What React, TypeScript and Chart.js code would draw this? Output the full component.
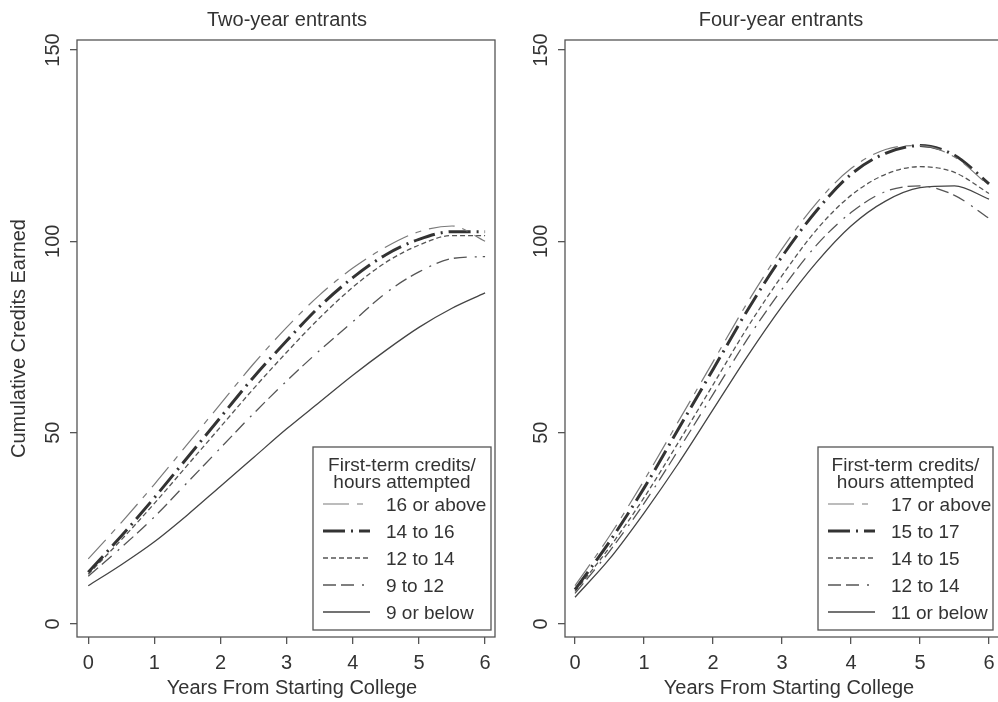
import React, { useEffect, useRef } from "react";
import { Chart, registerables } from "chart.js";
Chart.register(...registerables);

// ---------- data ----------
const YEARS = [0, 0.5, 1, 1.5, 2, 2.5, 3, 3.5, 4, 4.5, 5, 5.5, 6];
const X_TICKS = [0, 1, 2, 3, 4, 5, 6];
const Y_TICKS = [0, 50, 100, 150];

const TWO_TITLE = "Two-year entrants";
const TWO_LABELS = ["16 or above", "14 to 16", "12 to 14", "9 to 12", "9 or below"];
const TWO_16_UP = [17, 26.5, 36.5, 47, 57.5, 68, 77.5, 86, 93, 98.5, 102.5, 104, 100];
const TWO_14_16 = [13.5, 23, 33, 43.5, 54, 64.5, 74, 83, 90.5, 96.5, 100.5, 102.5, 102.5];
const TWO_12_14 = [13, 22, 31.5, 41.5, 51.5, 61.5, 71, 80, 88, 94.5, 99, 101.5, 101.5];
const TWO_9_12 = [12.5, 20, 28, 37, 46, 55, 63.5, 71.5, 79, 86.5, 92, 95.5, 96];
const TWO_9_DOWN = [10, 15.5, 21.5, 28.5, 36, 43.5, 51, 58, 65, 71.5, 77.5, 82.5, 86.5];

const FOUR_TITLE = "Four-year entrants";
const FOUR_LABELS = ["17 or above", "15 to 17", "14 to 15", "12 to 14", "11 or below"];
const FOUR_17_UP = [10, 23, 37.5, 53, 68.5, 84, 98, 110, 119, 124, 125, 122, 114.5];
const FOUR_15_17 = [9, 21.5, 35.5, 51, 66.5, 82, 96, 108, 117.5, 123, 125, 122.5, 115];
const FOUR_14_15 = [8.5, 20, 33, 47.5, 62.5, 77.5, 91, 103, 112, 117.5, 119.5, 118, 112.5];
const FOUR_12_14 = [8, 19, 31.5, 45.5, 60, 74.5, 87.5, 99, 107.5, 113, 114.5, 112, 106];
const FOUR_11_DOWN = [7, 17, 29, 42, 56, 70, 83, 94.5, 104, 110.5, 114, 114.5, 111];

const X_TITLE = "Years From Starting College";
const Y_TITLE = "Cumulative Credits Earned";
const LEGEND_TITLE = ["First-term credits/", "hours attempted"];

// ---------- styles ----------
const FONT = '"Liberation Sans", Arial, Helvetica, sans-serif';
const TEXT = "#333";
const AXIS = "#555";
const LINE_STYLES = [
  { color: "#7a7a7a", width: 1.2, dash: [26, 8, 6, 8] },
  { color: "#333", width: 3, dash: [22, 6, 2, 6] },
  { color: "#555", width: 1.3, dash: [5, 3] },
  { color: "#555", width: 1.3, dash: [13, 5, 13, 8, 2, 6] },
  { color: "#444", width: 1.3, dash: [] },
];

type PanelCfg = {
  title: string;
  labels: string[];
  series: number[][];
  showYTitle: boolean;
  canvasLeft: number;
  canvasWidth: number;
  yAxisWidth: number;
  padRight: number;
  xMin: number;
  xMax: number;
  titleX: number;
  xTitleX: number;
  legendBox: { x: number; y: number; w: number; h: number };
};

function makeDecor(cfg: PanelCfg) {
  return {
    id: "stataDecor",
    afterDatasetsDraw(chart: any) {
      const { ctx, chartArea: ca, scales } = chart;
      ctx.save();
      // frame
      ctx.setLineDash([]);
      ctx.strokeStyle = AXIS;
      ctx.lineWidth = 1.3;
      ctx.strokeRect(ca.left, ca.top, ca.right - ca.left, ca.bottom - ca.top);

      ctx.fillStyle = TEXT;
      ctx.font = `20px ${FONT}`;
      ctx.textAlign = "center";
      ctx.textBaseline = "alphabetic";
      ctx.fillText(cfg.title, cfg.titleX, 26);

      for (const v of X_TICKS) {
        ctx.fillText(String(v), scales.x.getPixelForValue(v), 669);
      }
      ctx.fillText(X_TITLE, cfg.xTitleX, 694);

      for (const v of Y_TICKS) {
        const y = scales.y.getPixelForValue(v);
        ctx.save();
        ctx.translate(ca.left - 24, y);
        ctx.rotate(-Math.PI / 2);
        ctx.textBaseline = "middle";
        ctx.fillText(String(v), 0, 0);
        ctx.restore();
      }
      if (cfg.showYTitle) {
        ctx.save();
        ctx.translate(19, (ca.top + ca.bottom) / 2);
        ctx.rotate(-Math.PI / 2);
        ctx.textBaseline = "middle";
        ctx.fillText(Y_TITLE, 0, 0);
        ctx.restore();
      }

      // legend
      const b = cfg.legendBox;
      ctx.fillStyle = "#fff";
      ctx.fillRect(b.x, b.y, b.w, b.h);
      ctx.strokeStyle = AXIS;
      ctx.lineWidth = 1.3;
      ctx.strokeRect(b.x, b.y, b.w, b.h);
      ctx.fillStyle = TEXT;
      ctx.font = `19px ${FONT}`;
      ctx.textAlign = "center";
      ctx.fillText(LEGEND_TITLE[0], b.x + b.w / 2, b.y + 24);
      ctx.fillText(LEGEND_TITLE[1], b.x + b.w / 2, b.y + 41);
      ctx.textAlign = "left";
      cfg.labels.forEach((lab, i) => {
        const base = b.y + 64 + 27 * i;
        const st = LINE_STYLES[i];
        ctx.save();
        ctx.strokeStyle = st.color;
        ctx.lineWidth = st.width;
        ctx.setLineDash(st.dash);
        ctx.beginPath();
        ctx.moveTo(b.x + 10, base - 7);
        ctx.lineTo(b.x + 57, base - 7);
        ctx.stroke();
        ctx.restore();
        ctx.fillText(lab, b.x + 73, base);
      });
      ctx.restore();
    },
  };
}

function Panel({ cfg }: { cfg: PanelCfg }) {
  const ref = useRef<HTMLCanvasElement | null>(null);
  useEffect(() => {
    if (!ref.current) return;
    const datasets = cfg.series.map((arr, i) => ({
      label: cfg.labels[i],
      data: YEARS.map((x, j) => ({ x, y: arr[j] })),
      borderColor: LINE_STYLES[i].color,
      borderWidth: LINE_STYLES[i].width,
      borderDash: LINE_STYLES[i].dash,
      pointRadius: 0,
      fill: false,
      cubicInterpolationMode: "monotone" as const,
    }));
    const chart = new Chart(ref.current, {
      type: "line",
      data: { datasets },
      plugins: [makeDecor(cfg)],
      options: {
        animation: false,
        responsive: false,
        devicePixelRatio: 1,
        layout: { padding: { top: 40, right: cfg.padRight, left: 0, bottom: 0 } },
        plugins: { legend: { display: false }, tooltip: { enabled: false }, title: { display: false } },
        scales: {
          x: {
            type: "linear",
            min: cfg.xMin,
            max: cfg.xMax,
            afterBuildTicks: (s: any) => {
              s.ticks = X_TICKS.map((v) => ({ value: v }));
            },
            afterFit: (s: any) => {
              s.height = 65;
            },
            grid: { drawOnChartArea: false, drawTicks: true, tickLength: 7, color: AXIS, lineWidth: 1.3 },
            border: { display: false },
            ticks: { display: false },
          },
          y: {
            type: "linear",
            min: -3.4,
            max: 152.6,
            afterBuildTicks: (s: any) => {
              s.ticks = Y_TICKS.map((v) => ({ value: v }));
            },
            afterFit: (s: any) => {
              s.width = cfg.yAxisWidth;
            },
            grid: { drawOnChartArea: false, drawTicks: true, tickLength: 7, color: AXIS, lineWidth: 1.3 },
            border: { display: false },
            ticks: { display: false },
          },
        },
      },
    });
    return () => chart.destroy();
  }, [cfg]);
  return (
    <canvas
      ref={ref}
      width={cfg.canvasWidth}
      height={702}
      style={{ position: "absolute", left: cfg.canvasLeft, top: 0, width: cfg.canvasWidth, height: 702 }}
    />
  );
}

const LEFT: PanelCfg = {
  title: TWO_TITLE,
  labels: TWO_LABELS,
  series: [TWO_16_UP, TWO_14_16, TWO_12_14, TWO_9_12, TWO_9_DOWN],
  showYTitle: true,
  canvasLeft: 0,
  canvasWidth: 500,
  yAxisWidth: 77,
  padRight: 5,
  xMin: -0.17,
  xMax: 6.15,
  titleX: 287,
  xTitleX: 292,
  legendBox: { x: 313, y: 447, w: 178, h: 183 },
};

const RIGHT: PanelCfg = {
  title: FOUR_TITLE,
  labels: FOUR_LABELS,
  series: [FOUR_17_UP, FOUR_15_17, FOUR_14_15, FOUR_12_14, FOUR_11_DOWN],
  showYTitle: false,
  canvasLeft: 500,
  canvasWidth: 510,
  yAxisWidth: 65,
  padRight: 9,
  xMin: -0.145,
  xMax: 6.174,
  titleX: 281,
  xTitleX: 289,
  legendBox: { x: 318, y: 447, w: 175, h: 183 },
};

export default function App() {
  return (
    <div
      style={{
        position: "fixed",
        left: 0,
        top: 0,
        width: 998,
        height: 702,
        overflow: "hidden",
        background: "#fff",
      }}
    >
      <Panel cfg={LEFT} />
      <Panel cfg={RIGHT} />
    </div>
  );
}
